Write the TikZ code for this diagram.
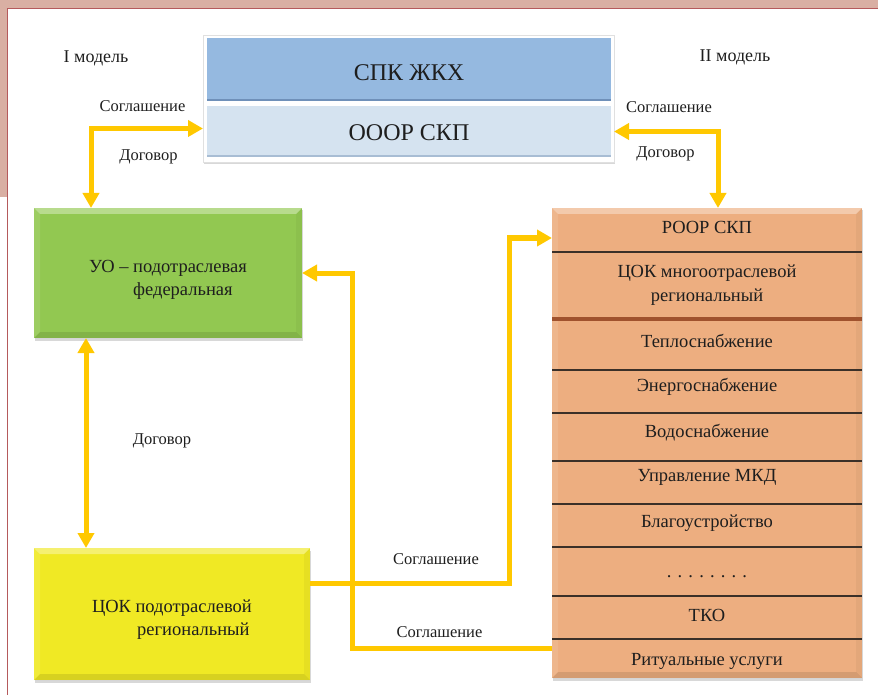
\documentclass[tikz,border=0pt]{standalone}
\usepackage{fontspec}
\setmainfont{Liberation Serif}
\usetikzlibrary{arrows.meta,shadows,calc}
\definecolor{pinkbg}{HTML}{D9AFA3}
\definecolor{darkline}{HTML}{B55A5C}
\definecolor{blueA}{HTML}{95B9E0}
\definecolor{blueAd}{HTML}{6F90B9}
\definecolor{blueB}{HTML}{D5E3F0}
\definecolor{blueBd}{HTML}{A8BDD4}
\definecolor{greenC}{HTML}{92C851}
\definecolor{yellowC}{HTML}{F0E924}
\definecolor{orangeC}{HTML}{EDAE80}
\definecolor{arrowC}{HTML}{FFC800}
\definecolor{sepC}{HTML}{3B3028}
\definecolor{brownC}{HTML}{A0522D}
\definecolor{txtC}{HTML}{1E1E1E}
\newcommand\boxbevel[2]{%
  \fill[white,opacity=.35] (#1.north west) -- (#1.north east) -- ($(#1.north east)+(-#2,#2)$) -- ($(#1.north west)+(#2,#2)$) -- cycle;
  \fill[black,opacity=.10] (#1.south west) -- (#1.south east) -- ($(#1.south east)+(-#2,-#2)$) -- ($(#1.south west)+(#2,-#2)$) -- cycle;
  \fill[white,opacity=.10] (#1.north west) -- (#1.south west) -- ($(#1.south west)+(#2,-#2)$) -- ($(#1.north west)+(#2,#2)$) -- cycle;
  \fill[black,opacity=.04] (#1.north east) -- (#1.south east) -- ($(#1.south east)+(-#2,-#2)$) -- ($(#1.north east)+(-#2,#2)$) -- cycle;}
\begin{document}
\begin{tikzpicture}[x=1pt,y=-1pt,
  every node/.style={font=\fontsize{18.5}{23}\selectfont, text=txtC},
  lbl/.style={font=\fontsize{16.5}{20}\selectfont},
  mdl/.style={font=\fontsize{18}{22}\selectfont},
  boxst/.style={rectangle, outer sep=0pt, inner sep=0pt,
    drop shadow={opacity=0.25, shadow xshift=0.8pt, shadow yshift=-2.5pt, fill=black!60}},
  conn/.style={draw=arrowC, line width=5pt, line join=miter},
  tipE/.style={-{Triangle[width=16pt,length=15pt]}},
  tipB/.style={{Triangle[width=16pt,length=15pt]}-{Triangle[width=16pt,length=15pt]}},
  sep/.style={draw=sepC, line width=1.2pt},
  row/.style={inner sep=0pt, align=center}
]
\useasboundingbox (0,0) rectangle (878,695);
\fill[white] (0,0) rectangle (878,695);
\fill[pinkbg] (0,0) rectangle (878,8.5);
\fill[pinkbg] (0,0) rectangle (7.5,197);
\draw[darkline, line width=1.5pt] (878,8.5) -- (7.5,8.5) -- (7.5,695);

% top block
\node[boxst, fill=white, draw=black!12, minimum width=411pt, minimum height=127pt] (frame) at (408.5,98.5) {};
\node[rectangle, outer sep=0pt, fill=blueA, minimum width=404pt, minimum height=63pt,
  font=\fontsize{24}{28}\selectfont, text height=23pt, text depth=0pt] (spk) at (409,69.5) {СПК ЖКХ};
\draw[blueAd, line width=2pt] ($(spk.south west)+(0,-1)$) -- ($(spk.south east)+(0,-1)$);
\node[rectangle, outer sep=0pt, fill=blueB, minimum width=404pt, minimum height=51pt,
  font=\fontsize{24}{28}\selectfont, text height=19pt, text depth=0pt] (ooor) at (409,131.5) {ОООР СКП};
\draw[blueBd, line width=2pt] ($(ooor.south west)+(0,-1)$) -- ($(ooor.south east)+(0,-1)$);

% green
\node[boxst, fill=greenC, minimum width=268pt, minimum height=130pt, align=left] (uo) at (168,273)
  {\rule{0pt}{26.5pt}УО – подотраслевая\\\hspace*{44pt}федеральная};
\boxbevel{uo}{6}
% yellow
\node[boxst, fill=yellowC, minimum width=276pt, minimum height=132pt, align=left] (cok) at (172,614)
  {\rule{0pt}{24.5pt}ЦОК подотраслевой\\\hspace*{45pt}региональный};
\boxbevel{cok}{6}
% orange
\node[boxst, fill=orangeC, minimum width=310pt, minimum height=470pt] (ro) at (707,443) {};
\boxbevel{ro}{6}
\node[row] (r1) at (707,227) {РООР СКП};
\node[row, font=\fontsize{18.5}{24}\selectfont] (r2) at (707,285) {ЦОК многоотраслевой\\региональный};
\node[row] (r3) at (707,341) {Теплоснабжение};
\node[row] (r4) at (707,387) {Энергоснабжение};
\node[row] (r5) at (707,433) {Водоснабжение};
\node[row] (r6) at (707,477) {Управление МКД};
\node[row] (r7) at (707,523) {Благоустройство};
\node[row] (r8) at (707,577) {. . . . . . . .};
\node[row] (r9) at (707,615) {ТКО};
\node[row] (r10) at (707,661) {Ритуальные услуги};
\foreach \yy in {252,370,413,461,504,547,596,639}
  \draw[sep] (ro.west |- 0,\yy) -- (ro.east |- 0,\yy);
\draw[brownC, line width=3.5pt] (ro.west |- 0,319) -- (ro.east |- 0,319);

% labels
\node[mdl] (m1) at (96,58) {I модель};
\node[mdl] (m2) at (735,57) {II модель};
\node[lbl] (s1) at (142.5,106) {Соглашение};
\node[lbl] (d1) at (148.5,157) {Договор};
\node[lbl] (s2) at (669,107) {Соглашение};
\node[lbl] (d2) at (665.5,154) {Договор};
\node[lbl] (d3) at (162,441) {Договор};
\node[lbl] (s3) at (436,559) {Соглашение};
\node[lbl] (s4) at (439.5,632) {Соглашение};

% connectors
\coordinate (a1) at ($(frame.west |- ooor.west)+(0,-3)$);
\draw[conn, tipB] (a1) -| ($(uo.north west)+(57,0)$);
\coordinate (a2) at (frame.east |- ooor.east);
\draw[conn, tipB] (a2) -| ($(ro.north)+(11,0)$);
\draw[conn, tipB] ($(uo.south west)+(52,0)$) -- ($(cok.north west)+(52,0)$);
\coordinate (b4) at (509,0);
\coordinate (e4) at ($(ro.west |- r1)+(0,11)$);
\draw[conn, tipE] ($(cok.east)+(0,-31)$) -| (b4 |- e4) -- (e4);
\coordinate (b5) at (352,0);
\coordinate (s5) at ($(ro.west |- r10)+(0,-13)$);
\draw[conn, tipE] (s5) -| (b5 |- uo.east) -- (uo.east);
\end{tikzpicture}
\end{document}
